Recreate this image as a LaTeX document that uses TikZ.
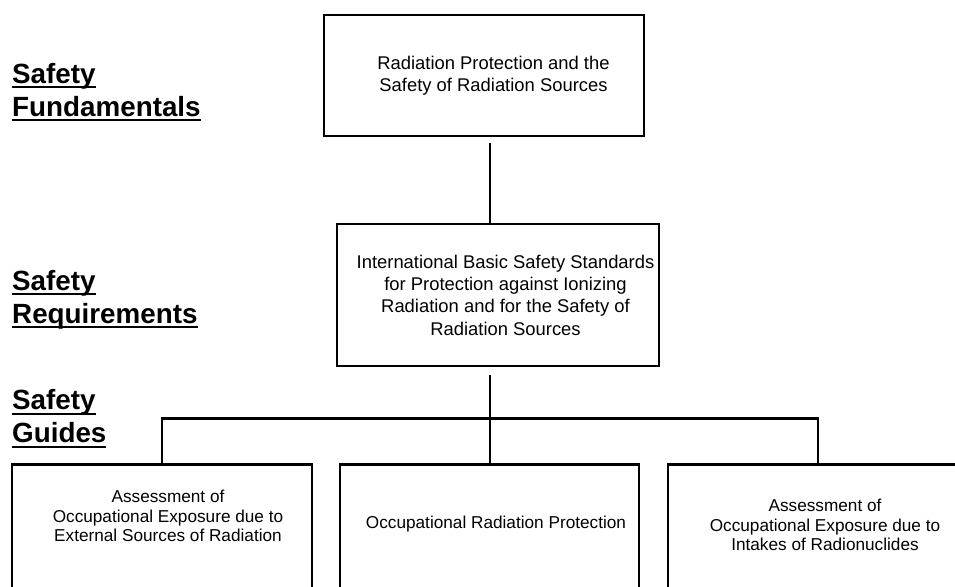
\documentclass[tikz,border=0pt]{standalone}
\usepackage{fontspec}
\setmainfont{Liberation Sans}
\usepackage{tikz}

\newsavebox{\lblbox}
\newcommand{\sottolinea}[1]{\sbox{\lblbox}{#1}\rlap{\vrule width\wd\lblbox height -3pt depth 5.2pt}\usebox{\lblbox}}

\tikzset{
  box/.style={draw, line width=2.2pt, inner sep=0pt},
  wire/.style={line width=2.2pt},
  txt/.style={align=center, inner sep=0pt, font=\fontsize{18.4}{22.3}\selectfont},
  txtsmall/.style={align=center, inner sep=0pt, font=\fontsize{17.2}{19.7}\selectfont},
  lbl/.style={anchor=base west, inner sep=0pt, font=\bfseries\fontsize{27.8}{33}\selectfont}
}

\begin{document}
\begin{tikzpicture}[x=1pt, y=-1pt]
        \useasboundingbox (0,0) rectangle (955,586);
        \clip (0,0) rectangle (955,586);

        % Etichette dei livelli
        \foreach \nm/\a/\b/\y in {fund/Safety/Fundamentals/83, req/Safety/Requirements/290, guide/Safety/Guides/409.5} {
            \node[lbl] (\nm lbla) at (12,\y) {\sottolinea{\a}};
            \node[lbl] (\nm lblb) at (12,\y+33) {\sottolinea{\b}};
        }

        % Riquadro superiore
        \node[box, minimum width=320pt, minimum height=121pt] (fund) at (484,75.5) {};
        \node[txt] (fundtxt) at ([xshift=9.5pt]fund.center) {Radiation Protection and the\\Safety of Radiation Sources};

        % Riquadro centrale
        \node[box, minimum width=322pt, minimum height=142pt] (req) at (498,295) {};
        \node[txt] (reqtxt) at ([xshift=7.5pt]req.center) {International Basic Safety Standards\\for Protection against Ionizing\\Radiation and for the Safety of\\Radiation Sources};

        % Riquadri inferiori
        \node[box, minimum width=300pt, minimum height=155pt] (guide1) at (162,542) {};
        \node[box, minimum width=299pt, minimum height=155pt] (guide2) at (489.5,542) {};
        \node[box, minimum width=300pt, minimum height=155pt] (guide3) at (818,542) {};
        \node[txtsmall] (guide1txt) at (168,516) {Assessment of\\Occupational Exposure due to\\External Sources of Radiation};
        \node[txtsmall] (guide2txt) at (496,524) {Occupational Radiation Protection};
        \node[txtsmall] (guide3txt) at (825,525) {Assessment of\\Occupational Exposure due to\\Intakes of Radionuclides};

        % Collegamenti
        \coordinate (bus) at (490,418.5);
        \draw[wire, shorten <=6pt] (fund.south -| bus) -- (req.north -| bus);
        \draw[wire, shorten <=8pt] (req.south -| bus) -- (guide2.north -| bus);
        \draw[wire] (guide1.north) -- (guide1.north |- bus) -- (guide3.north |- bus) -- (guide3.north);
\end{tikzpicture}
\end{document}
